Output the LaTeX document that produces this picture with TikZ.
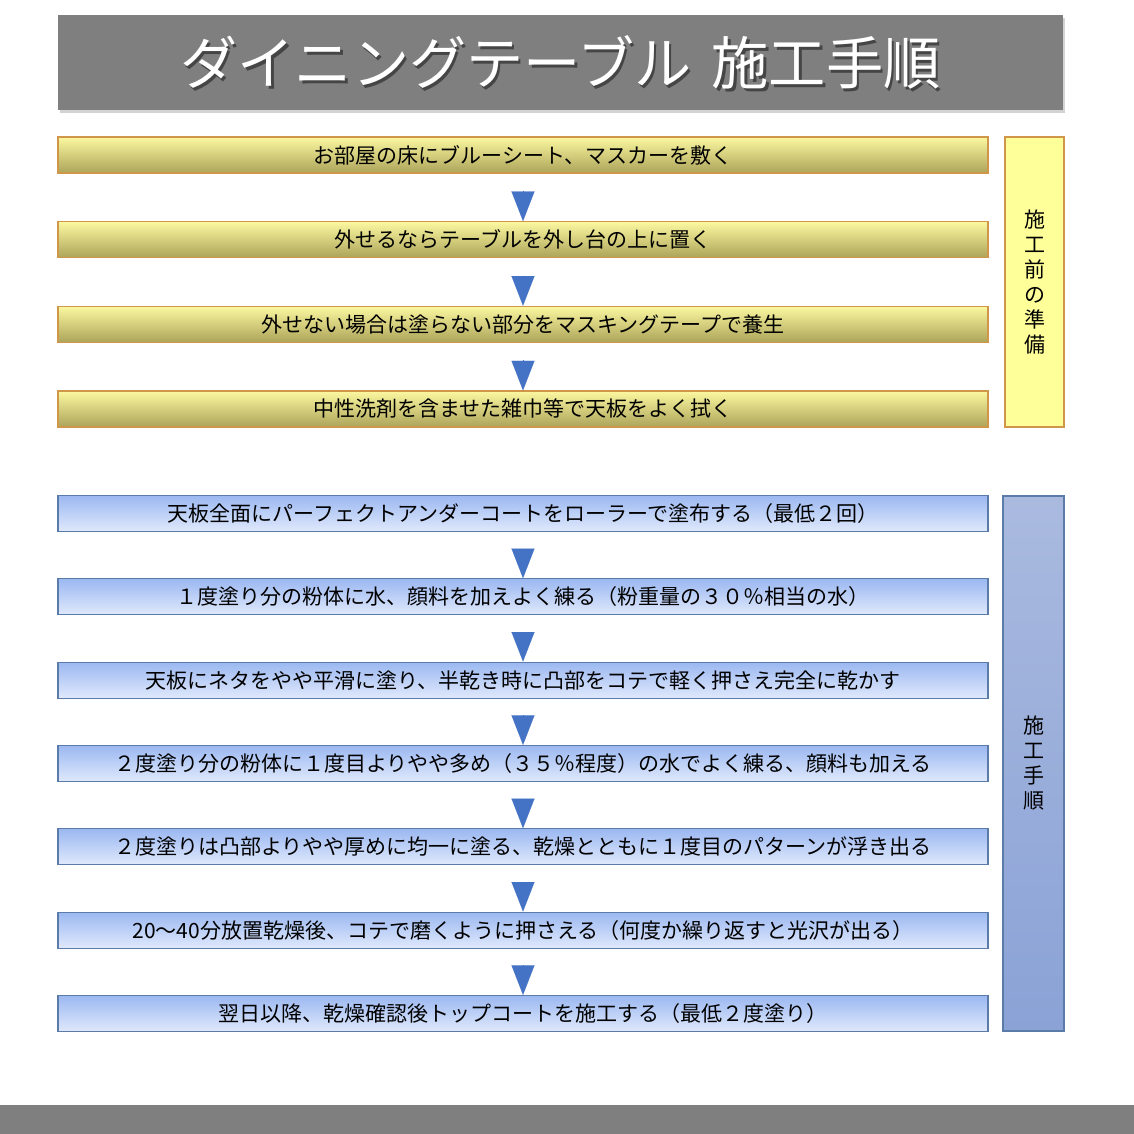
\documentclass[tikz,border=0pt]{standalone}
\usepackage{fontspec}
\newfontfamily\cjk{Noto Sans CJK JP}
\usetikzlibrary{arrows.meta,shadows}
\definecolor{titlegray}{HTML}{7F7F7F}
\definecolor{yeltop}{HTML}{FCF8A0}
\definecolor{yelbot}{HTML}{ACA45A}
\definecolor{yelline}{HTML}{D0964A}
\definecolor{yelside}{HTML}{FFFF99}
\definecolor{blutop}{HTML}{9BB8F1}
\definecolor{blubot}{HTML}{E0E9FC}
\definecolor{bluline}{HTML}{5B7BA8}
\definecolor{sidetop}{HTML}{AABADF}
\definecolor{sidebot}{HTML}{8AA2D6}
\definecolor{arrowblue}{HTML}{4472C4}
\tikzset{
  titlebox/.style={fill=titlegray,minimum width=502.5pt,minimum height=47.5pt,
    inner sep=0pt,drop shadow={shadow xshift=0.8pt,shadow yshift=-1.5pt,opacity=0.35}},
  titlefont/.style={font=\cjk\fontsize{28.6}{32}\selectfont,inner sep=0pt},
  prepbox/.style={draw=yelline,line width=0.6pt,top color=yeltop,bottom color=yelbot,
    minimum width=465pt,minimum height=18pt,inner sep=0pt,font=\cjk\fontsize{10.5}{12}\selectfont},
  workbox/.style={draw=bluline,line width=0.6pt,top color=blutop,bottom color=blubot,
    minimum width=465pt,minimum height=18pt,inner sep=0pt,font=\cjk\fontsize{10.5}{12}\selectfont},
  sidefont/.style={font=\cjk\fontsize{10.5}{12.5}\selectfont,align=center,inner sep=0pt},
  flow/.style={-{Triangle[width=11.5pt,length=14.8pt]},draw=arrowblue,fill=arrowblue,
    line width=0.05pt,shorten <=8.6pt},
}
\begin{document}
\begin{tikzpicture}[x=0.5pt,y=-0.5pt]
\useasboundingbox (0,0) rectangle (1134,1134);
% title
\node[titlebox] (title) at (560.5,62.5) {};
\node[titlefont,text=black,opacity=0.45] (titleshade) at ([shift={(1.2pt,-1.2pt)}]title.center)
  {ダイニングテーブル\hspace{0.35em}施工手順};
\node[titlefont,text=white] (titletext) at (title.center) {ダイニングテーブル\hspace{0.35em}施工手順};
%
\node[prepbox] (p1) at (523,155) {お部屋の床にブルーシート、マスカーを敷く};
\node[prepbox] (p2) at (523,239.7) {外せるならテーブルを外し台の上に置く};
\node[prepbox] (p3) at (523,324.3) {外せない場合は塗らない部分をマスキングテープで養生};
\node[prepbox] (p4) at (523,409) {中性洗剤を含ませた雑巾等で天板をよく拭く};
\node[draw=yelline,line width=0.6pt,fill=yelside,minimum width=29.5pt,minimum height=145pt,
  sidefont] (prepside) at (1034.5,282) {施\\工\\前\\の\\準\\備};
%
\draw[flow](p1)--(p2);
\draw[flow](p2)--(p3);
\draw[flow](p3)--(p4);
%
\node[workbox] (w1) at (523,513.5) {天板全面にパーフェクトアンダーコートをローラーで塗布する（最低２回）};
\node[workbox] (w2) at (523,596.8) {１度塗り分の粉体に水、顔料を加えよく練る（粉重量の３０％相当の水）};
\node[workbox] (w3) at (523,680.2) {天板にネタをやや平滑に塗り、半乾き時に凸部をコテで軽く押さえ完全に乾かす};
\node[workbox] (w4) at (523,763.5) {２度塗り分の粉体に１度目よりやや多め（３５％程度）の水でよく練る、顔料も加える};
\node[workbox] (w5) at (523,846.8) {２度塗りは凸部よりやや厚めに均一に塗る、乾燥とともに１度目のパターンが浮き出る};
\node[workbox] (w6) at (523,930.2) {20～40分放置乾燥後、コテで磨くように押さえる（何度か繰り返すと光沢が出る）};
\node[workbox] (w7) at (523,1013.5) {翌日以降、乾燥確認後トップコートを施工する（最低２度塗り）};
\node[draw=bluline,line width=0.6pt,top color=sidetop,bottom color=sidebot,minimum width=30.5pt,
  minimum height=267.5pt,sidefont] (workside) at (1033.5,763.5) {施\\工\\手\\順};
%
\draw[flow](w1)--(w2);
\draw[flow](w2)--(w3);
\draw[flow](w3)--(w4);
\draw[flow](w4)--(w5);
\draw[flow](w5)--(w6);
\draw[flow](w6)--(w7);
%
\fill[titlegray](0,1105)rectangle(1134,1134);
\end{tikzpicture}
\end{document}
